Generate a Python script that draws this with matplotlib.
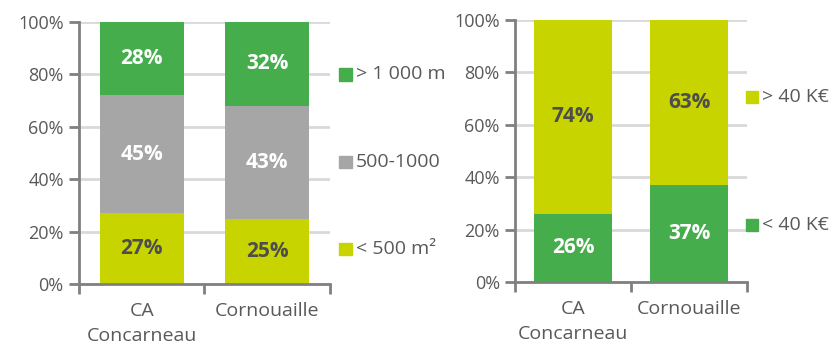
import matplotlib
matplotlib.use("Agg")
import matplotlib.pyplot as plt
from matplotlib.patches import Rectangle

plt.rcParams['font.family'] = ['Open Sans', 'DejaVu Sans']

# Data
categories = ["CA\nConcarneau", "Cornouaille"]

surface_labels = ["< 500 m²", "500-1000", "> 1 000 m"]
surface_values = [
    [27, 25],   # < 500 m2
    [45, 43],   # 500-1000
    [28, 32],   # > 1 000 m
]

income_labels = ["< 40 K€", "> 40 K€"]
income_values = [
    [26, 37],   # < 40 K€
    [74, 63],   # > 40 K€
]

GREEN = "#45ad4b"
GREY = "#a6a6a6"
YELLOW = "#c8d400"
DARK = "#4d4d4d"
TICK = "#595959"
AXIS = "#808080"
GRID = "#d9d9d9"

surface_colors = [YELLOW, GREY, GREEN]
surface_text = [DARK, "white", "white"]
income_colors = [GREEN, YELLOW]
income_text = ["white", DARK]

FS = 13


def stacked_chart(ax, values, colors, text_colors, labels, legend_y, leg_x):
    x = range(len(categories))
    bottom = [0] * len(categories)
    for vals, col, tcol in zip(values, colors, text_colors):
        bars = ax.bar(x, vals, bottom=bottom, width=0.67, color=col, zorder=2)
        for b, v, bt in zip(bars, vals, bottom):
            ax.text(b.get_x() + b.get_width() / 2, bt + v / 2, f"{v}%",
                    ha="center", va="center", color=tcol, fontsize=15,
                    fontweight="bold", zorder=3)
        bottom = [a + b for a, b in zip(bottom, vals)]

    ax.set_xlim(-0.5, len(categories) - 0.5)
    ax.set_ylim(0, 100)
    ax.set_yticks(range(0, 101, 20))
    ax.set_yticklabels([f"{t}%" for t in range(0, 101, 20)])
    ax.yaxis.grid(True, color=GRID, linewidth=2, zorder=0)
    ax.set_axisbelow(True)

    ax.set_xticks([i - 0.5 for i in range(len(categories) + 1)])
    ax.set_xticklabels([])
    ax.set_xticks(list(x), minor=True)
    ax.set_xticklabels(categories, minor=True, linespacing=1.5)
    ax.tick_params(axis="x", which="minor", length=0, pad=13, labelsize=14, labelcolor=TICK)
    ax.tick_params(axis="x", which="major", length=7, width=2, color=AXIS)
    ax.tick_params(axis="y", length=7, width=2, color=AXIS, labelsize=FS, labelcolor=TICK, pad=4)

    for s in ["top", "right"]:
        ax.spines[s].set_visible(False)
    for s in ["left", "bottom"]:
        ax.spines[s].set_color(AXIS)
        ax.spines[s].set_linewidth(2)

    # legend entries, spread vertically as in the original
    for lab, col, ly in zip(labels, colors, legend_y):
        ax.add_patch(Rectangle((leg_x, ly - 0.024), 0.05, 0.048, transform=ax.transAxes,
                               color=col, clip_on=False))
        ax.text(leg_x + 0.068, ly, lab, transform=ax.transAxes, ha="left", va="center",
                fontsize=14, color=TICK)


fig = plt.figure(figsize=(8.35, 3.42), dpi=100)
ax1 = fig.add_axes([0.0946, 0.1696, 0.3006, 0.766])
ax2 = fig.add_axes([0.6168, 0.1754, 0.2778, 0.766])

stacked_chart(ax1, surface_values, surface_colors, surface_text, surface_labels,
              [0.134, 0.466, 0.80], 1.036)
stacked_chart(ax2, income_values, income_colors, income_text, income_labels,
              [0.218, 0.706], 0.996)

fig.savefig("out.png", dpi=100)
